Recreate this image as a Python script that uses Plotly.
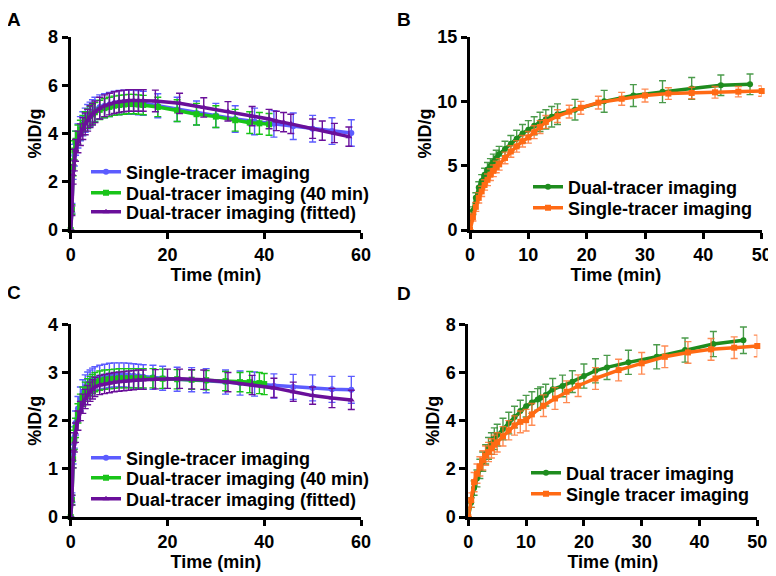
import plotly.graph_objects as go

# ---------------- Panel A data ----------------
A_single_t = [0, 0.25, 0.5, 0.75, 1, 1.5, 2, 2.5, 3, 3.5, 4, 4.5, 5, 6, 7, 8, 9, 10, 11, 12, 13, 14, 15, 18, 22, 26, 30, 34, 38, 42, 46, 50, 54, 58]
A_single_y = [0, 0.9, 2.5, 3.1, 3.6, 3.9, 4.2, 4.4, 4.55, 4.7, 4.8, 4.9, 5.0, 5.1, 5.15, 5.2, 5.25, 5.28, 5.3, 5.3, 5.3, 5.28, 5.25, 5.15, 5.0, 4.85, 4.75, 4.6, 4.5, 4.4, 4.3, 4.2, 4.1, 4.02]
A_single_e = [0, 0.2, 0.4, 0.45, 0.5, 0.5, 0.5, 0.5, 0.5, 0.5, 0.5, 0.5, 0.5, 0.5, 0.5, 0.5, 0.5, 0.5, 0.5, 0.5, 0.5, 0.5, 0.5, 0.5, 0.5, 0.5, 0.5, 0.55, 0.55, 0.55, 0.55, 0.55, 0.55, 0.55]

A_dual40_t = [0, 0.25, 0.5, 0.75, 1, 1.5, 2, 2.5, 3, 3.5, 4, 4.5, 5, 6, 7, 8, 9, 10, 11, 12, 13, 14, 15, 18, 22, 26, 30, 34, 37, 39, 41]
A_dual40_y = [0, 0.85, 2.6, 3.3, 3.7, 3.95, 4.15, 4.35, 4.5, 4.62, 4.72, 4.8, 4.88, 4.98, 5.05, 5.1, 5.15, 5.18, 5.2, 5.22, 5.22, 5.2, 5.18, 5.1, 4.95, 4.8, 4.7, 4.55, 4.45, 4.42, 4.38]
A_dual40_e = [0, 0.2, 0.35, 0.4, 0.4, 0.4, 0.4, 0.4, 0.4, 0.4, 0.4, 0.4, 0.4, 0.4, 0.4, 0.4, 0.4, 0.4, 0.4, 0.4, 0.4, 0.4, 0.4, 0.4, 0.45, 0.45, 0.45, 0.45, 0.45, 0.45, 0.45]

A_fit_t = [0, 0.25, 0.5, 0.75, 1, 1.5, 2, 2.5, 3, 3.5, 4, 4.5, 5, 6, 7, 8, 9, 10, 11, 12, 13, 14, 15, 17.5, 22.5, 27.5, 32.5, 37.5, 41, 42.5, 44, 45.5, 50, 52, 54.5, 57.5]
A_fit_y = [0, 0.8, 2.3, 2.9, 3.3, 3.65, 3.95, 4.2, 4.4, 4.55, 4.7, 4.8, 4.9, 5.05, 5.15, 5.22, 5.28, 5.32, 5.35, 5.37, 5.37, 5.37, 5.37, 5.35, 5.25, 5.08, 4.92, 4.72, 4.6, 4.52, 4.47, 4.4, 4.2, 4.12, 4.02, 3.87]
A_fit_e = [0, 0.2, 0.4, 0.45, 0.45, 0.45, 0.45, 0.45, 0.45, 0.45, 0.45, 0.45, 0.45, 0.45, 0.45, 0.45, 0.45, 0.45, 0.45, 0.45, 0.45, 0.45, 0.45, 0.45, 0.42, 0.4, 0.4, 0.4, 0.4, 0.4, 0.4, 0.4, 0.4, 0.4, 0.4, 0.4]

# ---------------- Panel B data ----------------
B_dual_t = [0, 0.5, 1, 1.5, 2, 2.5, 3, 3.5, 4, 4.5, 5, 6, 7, 8, 9, 10, 11, 12, 13, 14, 15, 18, 23, 28, 33, 38, 43, 48]
B_dual_y = [0, 1.5, 2.5, 3.3, 3.8, 4.3, 4.7, 5.0, 5.3, 5.6, 5.9, 6.3, 6.7, 7.1, 7.5, 7.8, 8.1, 8.4, 8.6, 8.8, 9.0, 9.35, 10.0, 10.45, 10.75, 11.0, 11.25, 11.32]
B_dual_e = [0, 0.3, 0.4, 0.45, 0.5, 0.5, 0.55, 0.55, 0.6, 0.6, 0.6, 0.6, 0.65, 0.65, 0.7, 0.7, 0.7, 0.75, 0.75, 0.8, 0.8, 0.8, 0.85, 0.85, 0.85, 0.85, 0.8, 0.8]

B_single_t = [0, 0.5, 1, 1.5, 2, 2.5, 3, 3.5, 4, 4.5, 5, 6, 7, 8, 9, 10, 11, 12, 13, 15, 17, 19, 22, 26, 30, 34, 38, 42, 46, 50]
B_single_y = [0, 1.0, 1.8, 2.5, 3.0, 3.5, 3.9, 4.3, 4.6, 4.9, 5.1, 5.6, 6.1, 6.5, 6.9, 7.2, 7.6, 8.0, 8.4, 8.85, 9.2, 9.5, 9.9, 10.2, 10.45, 10.6, 10.65, 10.7, 10.75, 10.8]
B_single_e = [0, 0.3, 0.35, 0.4, 0.4, 0.4, 0.45, 0.45, 0.45, 0.45, 0.45, 0.45, 0.45, 0.45, 0.45, 0.45, 0.5, 0.5, 0.5, 0.5, 0.5, 0.5, 0.5, 0.5, 0.5, 0.45, 0.45, 0.45, 0.4, 0.4]

# ---------------- Panel C data ----------------
C_single_t = [0, 0.25, 0.5, 0.75, 1, 1.5, 2, 2.5, 3, 3.5, 4, 4.5, 5, 6, 7, 8, 9, 10, 11, 12, 13, 14, 15, 17, 19, 22, 25, 28, 32, 35, 38, 42, 46, 50, 54, 58]
C_single_y = [0, 0.4, 1.3, 1.65, 1.95, 2.25, 2.45, 2.6, 2.7, 2.76, 2.8, 2.84, 2.87, 2.9, 2.92, 2.94, 2.95, 2.95, 2.95, 2.94, 2.93, 2.92, 2.91, 2.9, 2.88, 2.86, 2.85, 2.83, 2.8, 2.78, 2.76, 2.72, 2.7, 2.68, 2.65, 2.64]
C_single_e = [0, 0.1, 0.2, 0.22, 0.25, 0.25, 0.25, 0.25, 0.25, 0.25, 0.25, 0.25, 0.25, 0.25, 0.25, 0.25, 0.25, 0.25, 0.25, 0.25, 0.25, 0.25, 0.25, 0.25, 0.25, 0.25, 0.25, 0.25, 0.25, 0.25, 0.25, 0.25, 0.26, 0.27, 0.27, 0.28]

C_dual40_t = [0, 0.25, 0.5, 0.75, 1, 1.5, 2, 2.5, 3, 3.5, 4, 4.5, 5, 6, 7, 8, 9, 10, 11, 12, 13, 14, 15, 17, 19, 22, 25, 28, 32, 35, 37, 39, 40]
C_dual40_y = [0, 0.35, 1.2, 1.6, 1.85, 2.15, 2.35, 2.5, 2.6, 2.67, 2.72, 2.76, 2.8, 2.83, 2.85, 2.86, 2.87, 2.88, 2.88, 2.88, 2.88, 2.88, 2.88, 2.88, 2.87, 2.86, 2.85, 2.84, 2.82, 2.8, 2.8, 2.78, 2.76]
C_dual40_e = [0, 0.1, 0.18, 0.2, 0.2, 0.2, 0.2, 0.2, 0.2, 0.2, 0.2, 0.2, 0.2, 0.2, 0.2, 0.2, 0.2, 0.2, 0.2, 0.2, 0.2, 0.2, 0.2, 0.2, 0.2, 0.2, 0.2, 0.2, 0.2, 0.2, 0.22, 0.22, 0.22]

C_fit_t = [0, 0.25, 0.5, 0.75, 1, 1.5, 2, 2.5, 3, 3.5, 4, 4.5, 5, 6, 7, 8, 9, 10, 11, 12, 13, 14, 15, 17.5, 20, 22.5, 25, 27.5, 32.5, 37.5, 42, 46, 50, 54, 58]
C_fit_y = [0, 0.35, 1.2, 1.55, 1.75, 2.0, 2.2, 2.35, 2.45, 2.53, 2.6, 2.65, 2.7, 2.74, 2.76, 2.78, 2.8, 2.81, 2.82, 2.83, 2.84, 2.85, 2.85, 2.86, 2.87, 2.87, 2.86, 2.85, 2.8, 2.74, 2.68, 2.6, 2.52, 2.47, 2.43]
C_fit_e = [0, 0.1, 0.18, 0.2, 0.2, 0.2, 0.2, 0.2, 0.2, 0.2, 0.2, 0.2, 0.2, 0.2, 0.2, 0.2, 0.2, 0.2, 0.2, 0.2, 0.2, 0.2, 0.2, 0.2, 0.2, 0.2, 0.2, 0.2, 0.2, 0.2, 0.2, 0.2, 0.18, 0.2, 0.2]

# ---------------- Panel D data ----------------
D_dual_t = [0, 0.5, 1, 1.5, 2, 2.5, 3, 3.5, 4, 4.5, 5, 6, 7, 8, 9, 10, 11, 12, 12.5, 13.4, 14.6, 16.3, 18, 20, 22, 24, 27.7, 32.6, 37.5, 42.4, 47.6]
D_dual_y = [0, 0.6, 1.2, 1.6, 2.0, 2.3, 2.6, 2.85, 3.05, 3.25, 3.4, 3.65, 3.9, 4.15, 4.4, 4.6, 4.75, 4.88, 4.95, 5.06, 5.3, 5.44, 5.62, 5.85, 6.07, 6.21, 6.42, 6.65, 6.93, 7.18, 7.34]
D_dual_e = [0, 0.2, 0.3, 0.35, 0.4, 0.4, 0.4, 0.45, 0.45, 0.45, 0.45, 0.45, 0.45, 0.45, 0.45, 0.45, 0.45, 0.45, 0.45, 0.45, 0.45, 0.45, 0.45, 0.5, 0.5, 0.5, 0.5, 0.5, 0.5, 0.52, 0.55]

D_single_t = [0, 0.5, 1, 1.5, 2, 2.5, 3, 3.5, 4, 4.5, 5, 6, 7, 8, 9, 10, 11, 13, 15, 17, 19, 22, 26, 30, 34, 38, 42, 46, 50]
D_single_y = [0, 0.7, 1.45, 1.8, 2.1, 2.35, 2.55, 2.7, 2.85, 3.0, 3.1, 3.35, 3.6, 3.8, 3.95, 4.02, 4.26, 4.62, 4.92, 5.2, 5.45, 5.75, 6.1, 6.38, 6.65, 6.83, 6.96, 7.03, 7.1]
D_single_e = [0, 0.3, 0.4, 0.4, 0.4, 0.4, 0.4, 0.4, 0.4, 0.4, 0.4, 0.4, 0.4, 0.4, 0.45, 0.45, 0.45, 0.45, 0.45, 0.45, 0.45, 0.45, 0.45, 0.45, 0.45, 0.45, 0.45, 0.45, 0.45]

# ---------------- labels ----------------
panel_letters = ["A", "B", "C", "D"]
x_title = "Time (min)"
y_title = "%ID/g"
A_names = ["Single-tracer imaging", "Dual-tracer imaging (40 min)", "Dual-tracer imaging (fitted)"]
B_names = ["Dual-tracer imaging", "Single-tracer imaging"]
C_names = A_names
D_names = ["Dual tracer imaging", "Single tracer imaging"]

BLUE = "#5c5cff"
LGREEN = "#19c419"
PURPLE = "#6a0f9a"
DGREEN = "#1e8c1e"
ORANGE = "#ff6a14"

FONT = "Liberation Sans, Arial, sans-serif"
# page body has an 8px margin: figure covers page pixels 8..776 x 8..576
OFF = 8
W, H = 776 - OFF, 576 - OFF

def fx(px):
    return (px - OFF) / W

def fy(py):
    return 1 - (py - OFF) / H

fig = go.Figure()
legend_layout = {}
legfont = dict(family=FONT, size=18, color="black", weight="bold")
TEXT_OFFSET = 42
leg_counter = [0]

def add(t, y, e, name, color, symbol, xa, ya, text_x, row_y, ecolor=None):
    leg_counter[0] += 1
    key = "legend" if leg_counter[0] == 1 else "legend%d" % leg_counter[0]
    legend_layout[key] = dict(x=fx(text_x - TEXT_OFFSET), y=fy(row_y), xanchor="left", yanchor="middle",
                              bgcolor="rgba(0,0,0,0)", font=legfont, itemwidth=30)
    fig.add_trace(go.Scatter(
        x=t, y=y, name=name, mode="lines+markers",
        line=dict(color=color, width=3.5),
        marker=dict(color=color, symbol=symbol, size=6),
        error_y=dict(type="data", array=e, visible=True, color=ecolor or color, thickness=1.4, width=3.5),
        xaxis=xa, yaxis=ya, legend=key, cliponaxis=False,
    ))

add(A_single_t, A_single_y, A_single_e, A_names[0], BLUE, "circle", "x", "y", 128, 172)
add(A_dual40_t, A_dual40_y, A_dual40_e, A_names[1], LGREEN, "square", "x", "y", 128, 193)
add(A_fit_t, A_fit_y, A_fit_e, A_names[2], PURPLE, "triangle-up", "x", "y", 128, 212)

add(B_dual_t, B_dual_y, B_dual_e, B_names[0], DGREEN, "circle", "x2", "y2", 570, 187, "rgba(30,130,30,0.8)")
add(B_single_t, B_single_y, B_single_e, B_names[1], ORANGE, "square", "x2", "y2", 570, 208, "rgba(255,110,40,0.8)")

add(C_single_t, C_single_y, C_single_e, C_names[0], BLUE, "circle", "x3", "y3", 128, 458)
add(C_dual40_t, C_dual40_y, C_dual40_e, C_names[1], LGREEN, "square", "x3", "y3", 128, 478)
add(C_fit_t, C_fit_y, C_fit_e, C_names[2], PURPLE, "triangle-up", "x3", "y3", 128, 499)

add(D_dual_t, D_dual_y, D_dual_e, D_names[0], DGREEN, "circle", "x4", "y4", 568, 473, "rgba(30,130,30,0.8)")
add(D_single_t, D_single_y, D_single_e, D_names[1], ORANGE, "square", "x4", "y4", 568, 494, "rgba(255,110,40,0.8)")

def dx(a, b):
    return [fx(a), fx(b)]

def dy(top, bottom):
    return [fy(bottom), fy(top)]

axis_common = dict(
    showline=True, linecolor="black", linewidth=3, ticks="outside", ticklen=6, tickwidth=2.5,
    tickcolor="black", showgrid=False, zeroline=False, automargin=False,
    tickfont=dict(family=FONT, size=18, color="black", weight="bold"),
    title_font=dict(family=FONT, size=18, color="black", weight="bold"),
)

def xax(dom, rng, dt, anchor):
    return dict(axis_common, domain=dom, range=rng, dtick=dt, tick0=0, anchor=anchor,
                title=dict(text=x_title, standoff=4))

def yax(dom, rng, dt, anchor):
    return dict(axis_common, domain=dom, range=rng, dtick=dt, tick0=0, anchor=anchor,
                title=dict(text=y_title, standoff=2))

xA = dx(70.7, 361); xB = dx(470, 761.7); xD = dx(468.3, 757.3)
yTop = dy(37, 230); yBot = dy(324.3, 517)

fig.update_layout(
    width=W, height=H, margin=dict(l=0, r=0, t=0, b=0, autoexpand=False),
    paper_bgcolor="white", plot_bgcolor="white", showlegend=True,
    xaxis=xax(xA, [0, 60], 20, "y"), yaxis=yax(yTop, [0, 8], 2, "x"),
    xaxis2=xax(xB, [0, 50], 10, "y2"), yaxis2=yax(yTop, [0, 15], 5, "x2"),
    xaxis3=xax(xA, [0, 60], 20, "y3"), yaxis3=yax(yBot, [0, 4], 1, "x3"),
    xaxis4=xax(xD, [0, 50], 10, "y4"), yaxis4=yax(yBot, [0, 8], 2, "x4"),
    **legend_layout,
)

letter_pos = [(14, 19), (404, 19), (14, 292), (404, 293)]
for L, (px, py) in zip(panel_letters, letter_pos):
    fig.add_annotation(text=L, x=fx(px), y=fy(py), xref="paper", yref="paper",
                       showarrow=False, xanchor="center", yanchor="middle", borderpad=0,
                       font=dict(family=FONT, size=19, color="black", weight="bold"))

fig.write_html("out.html")
